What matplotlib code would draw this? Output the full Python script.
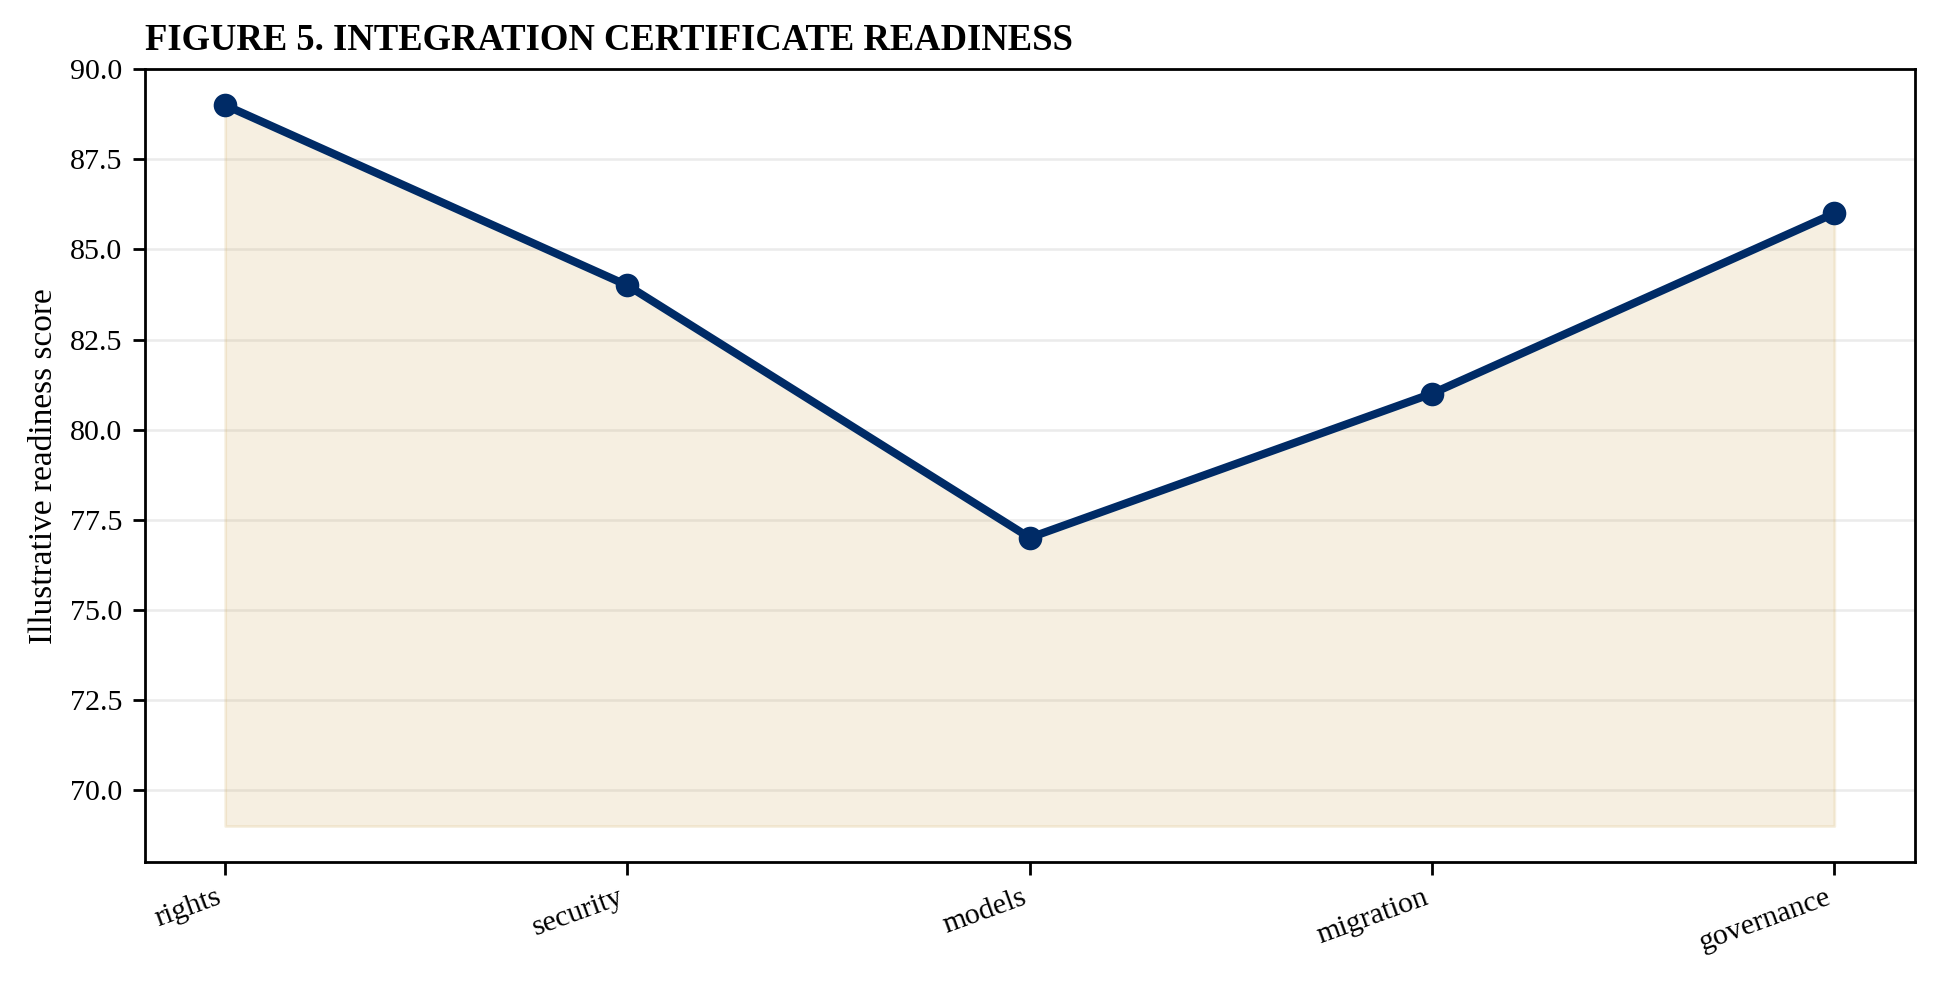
import matplotlib
matplotlib.use("Agg")
import matplotlib.pyplot as plt

categories = ["rights", "security", "models", "migration", "governance"]
scores = [89, 84, 77, 81, 86]
fill_base = 69
y_limits = (68, 90)

plt.rcParams["font.family"] = ["Liberation Serif", "DejaVu Serif"]

fig, ax = plt.subplots(figsize=(9.7, 4.915), dpi=200)
x = list(range(len(categories)))

ax.fill_between(x, scores, fill_base, color="#d4b26a", alpha=0.2, linewidth=1)
ax.plot(x, scores, color="#002b66", linewidth=2.9, marker="o", markersize=7.5, zorder=3)

ax.set_ylim(*y_limits)
ax.set_xticks(x)
ax.set_xticklabels(categories, rotation=20, ha="right", fontsize=10.8)
ax.tick_params(axis="y", labelsize=10.8)
ax.tick_params(length=4.5, width=1)
for s in ax.spines.values():
    s.set_linewidth(1)
ax.yaxis.grid(True, color="#ebebeb", linewidth=0.9)
ax.set_axisbelow(True)
ax.set_ylabel("Illustrative readiness score", fontsize=12)
ax.set_title("FIGURE 5. INTEGRATION CERTIFICATE READINESS", loc="left",
             fontsize=13.2, fontweight="bold", pad=7)

fig.subplots_adjust(left=0.0746, right=0.987, top=0.9296, bottom=0.123)
fig.savefig("out.png", dpi=200)
